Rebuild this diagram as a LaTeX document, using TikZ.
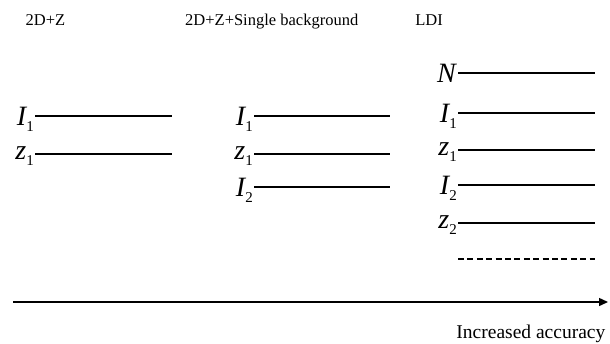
\documentclass[tikz,border=0pt]{standalone}
\usepackage{fontspec}
\setmainfont{Liberation Serif}
\usetikzlibrary{arrows.meta}
\tikzset{
  hdr/.style={font=\fontsize{16.5}{18}\selectfont, inner sep=0pt, anchor=base},
  lab/.style={font=\fontsize{28}{30}\selectfont\itshape, inner sep=0pt, anchor=base east},
  lvl/.style={line width=1.5pt},
  dlvl/.style={line width=1.5pt, dash pattern=on 6pt off 3.4pt},
}
\newcommand\mysub[1]{\raisebox{-6pt}{\fontsize{15}{16}\selectfont\upshape #1}}
\begin{document}
\begin{tikzpicture}[x=1pt,y=-1pt]
\useasboundingbox (0,0) rectangle (610,343);
% headers
\node[hdr] (h1) at (45.5,25) {2D+Z};
\node[hdr, anchor=base west] (h2) at (185,25) {2D+Z+Single background};
\node[hdr] (h3) at (429,25) {LDI};
% column 1
\node[lab] (a1) at (34,125.5) {I\mysub{1}};
\node[lab] (a2) at (34,159) {z\mysub{1}};
\coordinate (a1s) at (35,116); \coordinate (a1e) at (172,116);
\coordinate (a2s) at (35,154); \coordinate (a2e) at (172,154);
\draw[lvl] (a1s) -- (a1e);
\draw[lvl] (a2s) -- (a2e);
% column 2
\node[lab] (b1) at (253,125.5) {I\mysub{1}};
\node[lab] (b2) at (253,159) {z\mysub{1}};
\node[lab] (b3) at (253,196) {I\mysub{2}};
\coordinate (b1s) at (254,116); \coordinate (b1e) at (390,116);
\coordinate (b2s) at (254,154); \coordinate (b2e) at (390,154);
\coordinate (b3s) at (254,187); \coordinate (b3e) at (390,187);
\draw[lvl] (b1s) -- (b1e);
\draw[lvl] (b2s) -- (b2e);
\draw[lvl] (b3s) -- (b3e);
% column 3
\node[lab] (c0) at (456,82.5) {N};
\node[lab] (c1) at (457,122.2) {I\mysub{1}};
\node[lab] (c2) at (457,155.8) {z\mysub{1}};
\node[lab] (c3) at (457,194.5) {I\mysub{2}};
\node[lab] (c4) at (457,228.5) {z\mysub{2}};
\coordinate (c0s) at (458,73); \coordinate (c0e) at (595,73);
\coordinate (c1s) at (458,113); \coordinate (c1e) at (595,113);
\coordinate (c2s) at (458,150); \coordinate (c2e) at (595,150);
\coordinate (c3s) at (458,185); \coordinate (c3e) at (595,185);
\coordinate (c4s) at (458,223); \coordinate (c4e) at (595,223);
\coordinate (c5s) at (458,259); \coordinate (c5e) at (595,259);
\draw[lvl] (c0s) -- (c0e);
\draw[lvl] (c1s) -- (c1e);
\draw[lvl] (c2s) -- (c2e);
\draw[lvl] (c3s) -- (c3e);
\draw[lvl] (c4s) -- (c4e);
\draw[dlvl] (c5s) -- (c5e);
% axis
\coordinate (ax0) at (13,302);
\coordinate (ax1) at (608,302);
\draw[line width=1.4pt, -{Triangle[length=9pt,width=8pt]}] (ax0) -- (ax1);
\node[font=\fontsize{19.5}{21}\selectfont, inner sep=0pt, anchor=base east] (acc) at (605.5,338) {Increased accuracy};
\end{tikzpicture}
\end{document}
